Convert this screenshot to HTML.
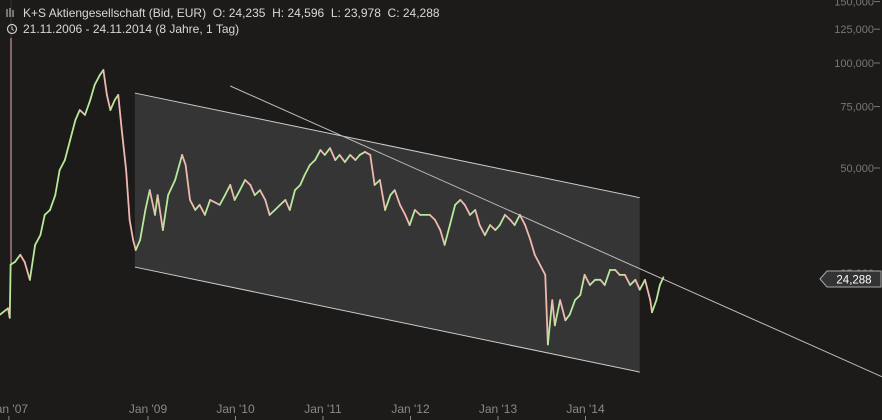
<!DOCTYPE html>
<html><head><meta charset="utf-8"><style>
html,body{margin:0;padding:0;background:#1c1b1a;}
svg{display:block;font-family:"Liberation Sans",sans-serif;}
text{white-space:pre;}
</style></head><body>
<svg width="882" height="420" viewBox="0 0 882 420" id="chart">
<rect width="882" height="420" fill="#1c1b1a"/>
<g id="channel-layer"></g>
<g id="series-layer"></g>
<g id="axis-layer"></g>
<g>
<rect x="0" y="0" width="258" height="38" fill="#1c1b1a" opacity="0.85"/>
<g stroke="#ccc" stroke-width="1">
<line x1="7" y1="9" x2="7" y2="17"/><line x1="10" y1="8" x2="10" y2="17"/><line x1="13" y1="10" x2="13" y2="17"/></g>
<text x="23" y="17" font-size="12" fill="#d8d8d8" xml:space="preserve">K+S Aktiengesellschaft (Bid, EUR)  O: 24,235  H: 24,596  L: 23,978  C: 24,288</text>
<circle cx="12" cy="29" r="4.5" fill="none" stroke="#ccc" stroke-width="1.2"/>
<path d="M12 26.5 V29 L13.8 30.5" fill="none" stroke="#ccc" stroke-width="1"/>
<text x="23" y="33" font-size="12" fill="#d8d8d8">21.11.2006 - 24.11.2014 (8 Jahre, 1 Tag)</text>
</g>
<g>
<path d="M820 279 L827 271 L881 271 L881 287 L827 287 Z" fill="#333" stroke="#aaa" stroke-width="1"/>
<text x="854" y="283.5" font-size="11.5" fill="#fff" text-anchor="middle">24,288</text>
</g>
</svg>
<script>
const dates=[2007.31,2007.40,2007.42,2007.43,2007.48,2007.54,2007.59,2007.65,2007.71,2007.77,2007.82,2007.88,2007.94,2007.99,2008.05,2008.11,2008.17,2008.22,2008.28,2008.34,2008.39,2008.45,2008.49,2008.53,2008.57,2008.62,2008.66,2008.70,2008.75,2008.79,2008.83,2008.86,2008.91,2008.97,2009.02,2009.08,2009.11,2009.17,2009.23,2009.31,2009.39,2009.43,2009.48,2009.54,2009.59,2009.65,2009.71,2009.82,2009.88,2009.94,2009.99,2010.05,2010.11,2010.17,2010.22,2010.28,2010.34,2010.39,2010.45,2010.51,2010.57,2010.62,2010.68,2010.74,2010.79,2010.85,2010.91,2010.97,2011.02,2011.08,2011.14,2011.19,2011.25,2011.31,2011.37,2011.42,2011.48,2011.54,2011.59,2011.65,2011.71,2011.77,2011.82,2011.88,2011.94,2011.99,2012.05,2012.11,2012.22,2012.28,2012.34,2012.39,2012.45,2012.51,2012.57,2012.62,2012.68,2012.74,2012.79,2012.85,2012.91,2012.97,2013.02,2013.08,2013.14,2013.19,2013.25,2013.31,2013.37,2013.42,2013.48,2013.54,2013.57,2013.62,2013.65,2013.71,2013.77,2013.82,2013.88,2013.94,2013.99,2014.05,2014.11,2014.17,2014.22,2014.28,2014.34,2014.39,2014.45,2014.51,2014.57,2014.62,2014.68,2014.74,2014.76,2014.81,2014.85,2014.89];
const closes=[19.0,19.8,18.6,26.4,26.9,28.2,26.9,23.9,30.1,32.1,36.7,37.9,41.8,49.3,52.7,60.1,68.6,73.3,71,78.3,86.5,92.4,95.5,81,73.3,78.3,81,64.3,49.3,35.5,31.1,29.1,31.1,37.9,43.2,36.7,41.8,33.2,41.8,46.2,54.5,51,40.5,37.9,39.2,36.7,40.5,39.2,41.8,44.7,40.5,43.2,46.2,44.7,41.8,43.2,40.5,36.7,37.9,39.2,40.5,37.9,43.2,44.7,47.7,51,52.7,56.3,54.5,57,52.7,54.5,52,54.5,52.7,54.5,55.6,54.5,44.7,46.2,37.9,41.8,43.2,39.2,36.7,34.3,37.9,36.7,36.7,35.5,33.2,30.1,34.3,39.2,40.5,39.2,36.7,37.9,34.3,32.1,34.3,33.2,34.3,36.7,35.5,34.3,36.7,34.3,31.1,28.2,26.4,24.7,15.6,20.9,17.7,20.9,18.3,19,20.9,21.6,24.7,23.1,23.9,23.9,23.1,25.5,25.5,24.7,24.7,23.1,23.9,22.4,23.9,20.9,19.3,20.9,23.1,24.3];
const channelDates=[2008.85,2014.62,2014.62,2008.85];
const channelPrices=[82,41.1,13,26];
const trendDates=[2009.94,2017.39];
const trendPrices=[85.9,12.6];
const yTicks=[150,125,100,75,50,25];
const yTickLabels=['150,000','125,000','100,000','75,000','50,000','25,000'];
const xTicks=[2007.41,2009,2010,2011,2012,2013,2014];
const xTickLabels=["Jan '07","Jan '09","Jan '10","Jan '11","Jan '12","Jan '13","Jan '14"];

const NS='http://www.w3.org/2000/svg';
function X(t){return 148+(t-2009)*87.5;}
function Y(p){return 168-151.5*Math.log(p/50);}
function mk(tag,attrs,parent){const e=document.createElementNS(NS,tag);for(const k in attrs)e.setAttribute(k,attrs[k]);parent.appendChild(e);return e;}

const ch=document.getElementById('channel-layer');
const chPts=channelDates.map((d,i)=>X(d)+','+Y(channelPrices[i])).join(' ');
const poly=mk('polygon',{points:chPts,fill:'#353535',stroke:'none'},ch);


const upperLine=mk('line',{x1:X(channelDates[0]),y1:Y(channelPrices[0]),x2:X(channelDates[1]),y2:Y(channelPrices[1]),stroke:'#ccc','stroke-width':1},ch);


const lowerLine=mk('line',{x1:X(channelDates[3]),y1:Y(channelPrices[3]),x2:X(channelDates[2]),y2:Y(channelPrices[2]),stroke:'#ccc','stroke-width':1},ch);


const trendLine=mk('line',{x1:X(trendDates[0]),y1:Y(trendPrices[0]),x2:X(trendDates[1]),y2:Y(trendPrices[1]),stroke:'#bbb','stroke-width':1},ch);


const marker=mk('line',{x1:11,y1:0,x2:11,y2:Y(closes[3]),stroke:'#e8b0a8','stroke-width':1},ch);



const sl=document.getElementById('series-layer');
for(let i=1;i<dates.length;i++){
  const up=closes[i]>=closes[i-1];
  const s=mk('line',{x1:X(dates[i-1]),y1:Y(closes[i-1]),x2:X(dates[i]),y2:Y(closes[i]),stroke:up?'#b8e89a':'#f0b8b0','stroke-width':1.8,'stroke-linecap':'round'},sl);
  
  
}

const ax=document.getElementById('axis-layer');
yTicks.forEach((p,i)=>{
  const t=mk('text',{x:874,y:Y(p)+4,'font-size':11,fill:'#777','text-anchor':'end'},ax);
  t.textContent=yTickLabels[i];
  
  
  const l=mk('line',{x1:874,y1:Y(p),x2:880,y2:Y(p),stroke:'#777'},ax);
  
  
});
xTicks.forEach((d,i)=>{
  const t=mk('text',{x:X(d),y:413,'font-size':12,fill:'#888','text-anchor':'middle'},ax);
  t.textContent=xTickLabels[i];
  
  
  const l=mk('line',{x1:X(d),y1:416,x2:X(d),y2:420,stroke:'#888'},ax);
  
  
});
</script>
</body></html>
